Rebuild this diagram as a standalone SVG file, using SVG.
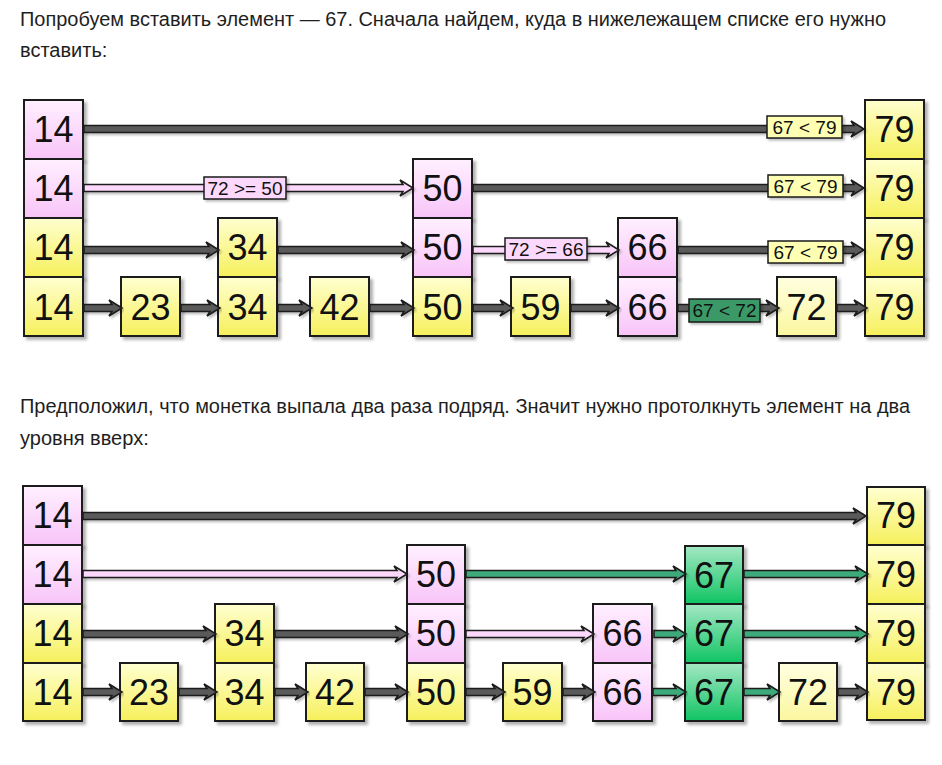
<svg xmlns="http://www.w3.org/2000/svg" width="942" height="765" viewBox="0 0 942 765">
<defs>
<linearGradient id="gPk" x1="0" y1="0" x2="0" y2="1"><stop offset="0" stop-color="#fff0ff"/><stop offset="1" stop-color="#f8c4f8"/></linearGradient>
<linearGradient id="gYl" x1="0" y1="0" x2="0" y2="1"><stop offset="0" stop-color="#ffffd0"/><stop offset="1" stop-color="#f6f05c"/></linearGradient>
<linearGradient id="gYl2" x1="0" y1="0" x2="0" y2="1"><stop offset="0" stop-color="#ffffe0"/><stop offset="1" stop-color="#fbf7a0"/></linearGradient>
<linearGradient id="gGr" x1="0" y1="0" x2="0" y2="1"><stop offset="0" stop-color="#a4e8c4"/><stop offset="1" stop-color="#10c464"/></linearGradient>
<filter id="sh" x="-10%" y="-10%" width="130%" height="130%"><feDropShadow dx="3" dy="3" stdDeviation="1.5" flood-color="#000" flood-opacity="0.3"/></filter>
<filter id="sha" x="-5%" y="-50%" width="110%" height="200%"><feDropShadow dx="2" dy="2" stdDeviation="1" flood-color="#000" flood-opacity="0.25"/></filter>
</defs>
<style>
.t{font-family:"Liberation Sans",Arial,sans-serif;font-size:20px;fill:#1e1e1e}
.n{font-family:"Liberation Sans",Arial,sans-serif;font-size:36px;fill:#111;text-anchor:middle}
.l{font-family:"Liberation Sans",Arial,sans-serif;font-size:19px;fill:#111;text-anchor:middle}
rect.b{stroke:#1a1a1a;stroke-width:2;filter:url(#sh)}
.pk{fill:url(#gPk)}
.yl{fill:url(#gYl)}
.yl2{fill:url(#gYl2)}
.gr{fill:url(#gGr)}
path.a{stroke:#1a1a1a;stroke-width:1.5;stroke-linejoin:miter;filter:url(#sha)}
.ad{fill:#5a5a5a}
.ap{fill:#fcd8fc}
.ag{fill:#3eaa7c}
rect.lb{stroke:#1a1a1a;stroke-width:1.5;filter:url(#sha)}
.lby{fill:#ffffb4}
.lbp{fill:#fcd8fc}
.lbg{fill:#3a9968}
</style>
<rect width="942" height="765" fill="#fff"/>
<text class="t" x="20" y="26" textLength="866" lengthAdjust="spacingAndGlyphs">Попробуем вставить элемент — 67. Сначала найдем, куда в нижележащем списке его нужно</text>
<text class="t" x="20" y="57">вставить:</text>
<text class="t" x="20" y="413" textLength="890" lengthAdjust="spacingAndGlyphs">Предположил, что монетка выпала два раза подряд. Значит нужно протолкнуть элемент на два</text>
<text class="t" x="20" y="445">уровня вверх:</text>

<g id="top-nodes">
<g id="t14a"><rect class="b pk" x="24" y="100" width="59" height="59"/><text class="n" x="53.5" y="142">14</text></g>
<g id="t14b"><rect class="b pk" x="24" y="159" width="59" height="59"/><text class="n" x="53.5" y="201">14</text></g>
<g id="t14c"><rect class="b yl" x="24" y="218" width="59" height="59"/><text class="n" x="53.5" y="260">14</text></g>
<g id="t14d"><rect class="b yl" x="24" y="277" width="59" height="59"/><text class="n" x="53.5" y="320">14</text></g>
<g id="t23"><rect class="b yl" x="121" y="277" width="59" height="59"/><text class="n" x="150.5" y="320">23</text></g>
<g id="t34c"><rect class="b yl" x="218" y="218" width="59" height="59"/><text class="n" x="247.5" y="260">34</text></g>
<g id="t34d"><rect class="b yl" x="218" y="277" width="59" height="59"/><text class="n" x="247.5" y="320">34</text></g>
<g id="t42"><rect class="b yl" x="310" y="277" width="59" height="59"/><text class="n" x="339.5" y="320">42</text></g>
<g id="t50b"><rect class="b pk" x="413" y="159" width="59" height="59"/><text class="n" x="442.5" y="201">50</text></g>
<g id="t50c"><rect class="b pk" x="413" y="218" width="59" height="59"/><text class="n" x="442.5" y="260">50</text></g>
<g id="t50d"><rect class="b yl" x="413" y="277" width="59" height="59"/><text class="n" x="442.5" y="320">50</text></g>
<g id="t59"><rect class="b yl" x="511" y="277" width="59" height="59"/><text class="n" x="540.5" y="320">59</text></g>
<g id="t66c"><rect class="b pk" x="618" y="218" width="59" height="59"/><text class="n" x="647.5" y="260">66</text></g>
<g id="t66d"><rect class="b pk" x="618" y="277" width="59" height="59"/><text class="n" x="647.5" y="320">66</text></g>
<g id="t72"><rect class="b yl2" x="777" y="277" width="59" height="59"/><text class="n" x="806.5" y="320">72</text></g>
<g id="t79a"><rect class="b yl" x="865" y="100" width="59" height="59"/><text class="n" x="894.5" y="142">79</text></g>
<g id="t79b"><rect class="b yl" x="865" y="159" width="59" height="59"/><text class="n" x="894.5" y="201">79</text></g>
<g id="t79c"><rect class="b yl" x="865" y="218" width="59" height="59"/><text class="n" x="894.5" y="260">79</text></g>
<g id="t79d"><rect class="b yl" x="865" y="277" width="59" height="59"/><text class="n" x="894.5" y="320">79</text></g>
</g>

<g id="bottom-nodes">
<g id="b14a"><rect class="b pk" x="23" y="486" width="59" height="59"/><text class="n" x="52.5" y="528">14</text></g>
<g id="b14b"><rect class="b pk" x="23" y="545" width="59" height="59"/><text class="n" x="52.5" y="587">14</text></g>
<g id="b14c"><rect class="b yl" x="23" y="604" width="59" height="59"/><text class="n" x="52.5" y="646">14</text></g>
<g id="b14d"><rect class="b yl" x="23" y="663" width="59" height="58"/><text class="n" x="52.5" y="705">14</text></g>
<g id="b23"><rect class="b yl" x="120" y="663" width="58" height="58"/><text class="n" x="149" y="705">23</text></g>
<g id="b34c"><rect class="b yl" x="215" y="604" width="59" height="59"/><text class="n" x="244.5" y="646">34</text></g>
<g id="b34d"><rect class="b yl" x="215" y="663" width="59" height="58"/><text class="n" x="244.5" y="705">34</text></g>
<g id="b42"><rect class="b yl" x="306" y="663" width="58" height="58"/><text class="n" x="335" y="705">42</text></g>
<g id="b50b"><rect class="b pk" x="407" y="545" width="58" height="59"/><text class="n" x="436" y="587">50</text></g>
<g id="b50c"><rect class="b pk" x="407" y="604" width="58" height="59"/><text class="n" x="436" y="646">50</text></g>
<g id="b50d"><rect class="b yl" x="407" y="663" width="58" height="58"/><text class="n" x="436" y="705">50</text></g>
<g id="b59"><rect class="b yl" x="503" y="663" width="59" height="58"/><text class="n" x="532.5" y="705">59</text></g>
<g id="b66c"><rect class="b pk" x="593" y="604" width="59" height="59"/><text class="n" x="622.5" y="646">66</text></g>
<g id="b66d"><rect class="b pk" x="593" y="663" width="59" height="58"/><text class="n" x="622.5" y="705">66</text></g>
<g id="b67b"><rect class="b gr" x="685" y="546" width="58" height="58"/><text class="n" x="714" y="588">67</text></g>
<g id="b67c"><rect class="b gr" x="685" y="604" width="58" height="59"/><text class="n" x="714" y="646">67</text></g>
<g id="b67d"><rect class="b gr" x="685" y="663" width="58" height="58"/><text class="n" x="714" y="705">67</text></g>
<g id="b72"><rect class="b yl2" x="779" y="663" width="58" height="58"/><text class="n" x="808" y="705">72</text></g>
<g id="b79a"><rect class="b yl" x="867" y="487" width="58" height="58"/><text class="n" x="896" y="528">79</text></g>
<g id="b79b"><rect class="b yl" x="867" y="545" width="58" height="59"/><text class="n" x="896" y="587">79</text></g>
<g id="b79c"><rect class="b yl" x="867" y="604" width="58" height="59"/><text class="n" x="896" y="646">79</text></g>
<g id="b79d"><rect class="b yl" x="867" y="663" width="58" height="57"/><text class="n" x="896" y="705">79</text></g>
</g>

<g id="connectors">
<path class="a ad" d="M84,125.5 H854 L851,121 L864,129 L851,137 L854,132.5 H84 Z"/>
<path class="a ap" d="M84,184.5 H403 L400,180 L413,188 L400,196 L403,191.5 H84 Z"/>
<path class="a ad" d="M473,184.5 H854 L851,180 L864,188 L851,196 L854,191.5 H473 Z"/>
<path class="a ad" d="M84,246.5 H209 L206,242 L219,250 L206,258 L209,253.5 H84 Z"/>
<path class="a ad" d="M278,246.5 H404 L401,242 L414,250 L401,258 L404,253.5 H278 Z"/>
<path class="a ap" d="M473,246.5 H609 L606,242 L619,250 L606,258 L609,253.5 H473 Z"/>
<path class="a ad" d="M678,246.5 H854 L851,242 L864,250 L851,258 L854,253.5 H678 Z"/>
<path class="a ad" d="M84,304.5 H112 L109,300 L122,308 L109,316 L112,311.5 H84 Z"/>
<path class="a ad" d="M181,304.5 H210 L207,300 L220,308 L207,316 L210,311.5 H181 Z"/>
<path class="a ad" d="M278,304.5 H302 L299,300 L312,308 L299,316 L302,311.5 H278 Z"/>
<path class="a ad" d="M370,304.5 H404 L401,300 L414,308 L401,316 L404,311.5 H370 Z"/>
<path class="a ad" d="M473,304.5 H503 L500,300 L513,308 L500,316 L503,311.5 H473 Z"/>
<path class="a ad" d="M571,304.5 H609 L606,300 L619,308 L606,316 L609,311.5 H571 Z"/>
<path class="a ad" d="M678,304.5 H769 L766,300 L779,308 L766,316 L769,311.5 H678 Z"/>
<path class="a ad" d="M837,304.5 H857 L854,300 L867,308 L854,316 L857,311.5 H837 Z"/>

<g id="labels">
<rect class="lb lby" x="767" y="116" width="75" height="22"/><text class="l" x="804.5" y="134">67 &lt; 79</text>
<rect class="lb lbp" x="204" y="177" width="82" height="22"/><text class="l" x="245" y="195">72 &gt;= 50</text>
<rect class="lb lby" x="768" y="175" width="75" height="22"/><text class="l" x="805.5" y="193">67 &lt; 79</text>
<rect class="lb lbp" x="505" y="238" width="82" height="22"/><text class="l" x="546" y="256">72 &gt;= 66</text>
<rect class="lb lby" x="768" y="241" width="75" height="22"/><text class="l" x="805.5" y="259">67 &lt; 79</text>
<rect class="lb lbg" x="689" y="299" width="71" height="23"/><text class="l" x="724.5" y="317">67 &lt; 72</text>
</g>

<path class="a ad" d="M83,512.5 H856 L853,508 L866,516 L853,524 L856,519.5 H83 Z"/>
<path class="a ap" d="M83,570.5 H397 L394,566 L407,574 L394,582 L397,577.5 H83 Z"/>
<path class="a ag" d="M466,570.5 H676 L673,566 L686,574 L673,582 L676,577.5 H466 Z"/>
<path class="a ag" d="M744,570.5 H858 L855,566 L868,574 L855,582 L858,577.5 H744 Z"/>
<path class="a ad" d="M83,630.5 H206 L203,626 L216,634 L203,642 L206,637.5 H83 Z"/>
<path class="a ad" d="M275,630.5 H398 L395,626 L408,634 L395,642 L398,637.5 H275 Z"/>
<path class="a ap" d="M466,630.5 H584 L581,626 L594,634 L581,642 L584,637.5 H466 Z"/>
<path class="a ag" d="M654,630.5 H676 L673,626 L686,634 L673,642 L676,637.5 H654 Z"/>
<path class="a ag" d="M744,630.5 H858 L855,626 L868,634 L855,642 L858,637.5 H744 Z"/>
<path class="a ad" d="M83,688.5 H112 L109,684 L122,692 L109,700 L112,695.5 H83 Z"/>
<path class="a ad" d="M179,688.5 H207 L204,684 L217,692 L204,700 L207,695.5 H179 Z"/>
<path class="a ad" d="M275,688.5 H298 L295,684 L308,692 L295,700 L298,695.5 H275 Z"/>
<path class="a ad" d="M365,688.5 H398 L395,684 L408,692 L395,700 L398,695.5 H365 Z"/>
<path class="a ad" d="M466,688.5 H495 L492,684 L505,692 L492,700 L495,695.5 H466 Z"/>
<path class="a ad" d="M563,688.5 H585 L582,684 L595,692 L582,700 L585,695.5 H563 Z"/>
<path class="a ag" d="M653,688.5 H676 L673,684 L686,692 L673,700 L676,695.5 H653 Z"/>
<path class="a ag" d="M744,688.5 H770 L767,684 L780,692 L767,700 L770,695.5 H744 Z"/>
<path class="a ad" d="M838,688.5 H858 L855,684 L868,692 L855,700 L858,695.5 H838 Z"/>
</g>
</svg>
